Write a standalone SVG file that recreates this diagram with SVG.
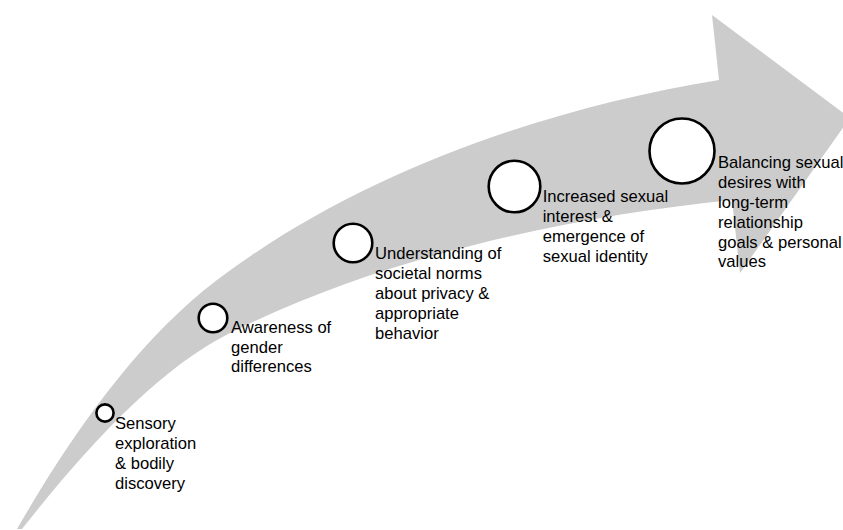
<svg xmlns="http://www.w3.org/2000/svg" width="843" height="530" viewBox="0 0 843 530">
  <style>
    .band { fill: #cccccc; stroke: none; }
    .dot { fill: #ffffff; stroke: #000000; stroke-width: 2.6; }
    .lbl { font-family: "Liberation Sans", Arial, sans-serif; font-size: 16.6px; fill: #000000; }
  </style>
  <rect width="843" height="530" fill="#ffffff"/>
  <g id="arrow">
    <path class="band" d="M17,529 C77,425 142,337 217,280 C360,172 547,108 719,80 L712,15 L850,118 L740,273 L732,200 C565,217 380,258 230,333 C160,368 90,443 22,529 Z"/>
  </g>
  <g id="connectors"></g>
  <g id="node1">
    <circle class="dot" cx="105" cy="413" r="8.6"/>
    <text class="lbl" x="115" y="429.3">Sensory</text>
    <text class="lbl" x="115" y="449.1">exploration</text>
    <text class="lbl" x="115" y="468.9">&amp; bodily</text>
    <text class="lbl" x="115" y="488.7">discovery</text>
  </g>
  <g id="node2">
    <circle class="dot" cx="213" cy="318" r="14.3"/>
    <text class="lbl" x="231" y="332.7">Awareness of</text>
    <text class="lbl" x="231" y="352.5">gender</text>
    <text class="lbl" x="231" y="372.3">differences</text>
  </g>
  <g id="node3">
    <circle class="dot" cx="353" cy="243" r="19.3"/>
    <text class="lbl" x="375" y="259.3">Understanding of</text>
    <text class="lbl" x="375" y="279.1">societal norms</text>
    <text class="lbl" x="375" y="298.9">about privacy &amp;</text>
    <text class="lbl" x="375" y="318.7">appropriate</text>
    <text class="lbl" x="375" y="338.5">behavior</text>
  </g>
  <g id="node4">
    <circle class="dot" cx="514.5" cy="186.5" r="25.8"/>
    <text class="lbl" x="542.7" y="202.3">Increased sexual</text>
    <text class="lbl" x="542.7" y="222.1">interest &amp;</text>
    <text class="lbl" x="542.7" y="241.9">emergence of</text>
    <text class="lbl" x="542.7" y="261.7">sexual identity</text>
  </g>
  <g id="node5">
    <circle class="dot" cx="682" cy="151" r="32.5"/>
    <text class="lbl" x="718" y="168.3">Balancing sexual</text>
    <text class="lbl" x="718" y="188.1">desires with</text>
    <text class="lbl" x="718" y="207.9">long-term</text>
    <text class="lbl" x="718" y="227.7">relationship</text>
    <text class="lbl" x="718" y="247.5">goals &amp; personal</text>
    <text class="lbl" x="718" y="267.3">values</text>
  </g>
</svg>
